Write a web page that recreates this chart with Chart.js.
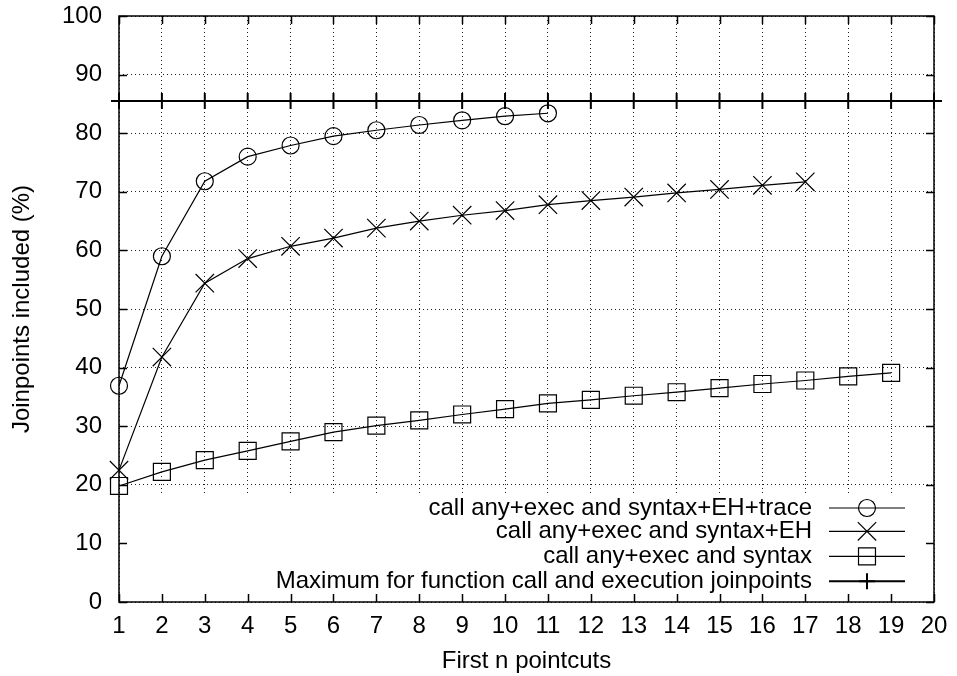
<!DOCTYPE html>
<html>
<head>
<meta charset="utf-8">
<script src="https://cdn.jsdelivr.net/npm/chart.js@4.4.0/dist/chart.umd.min.js"></script>
<style>
  html, body { margin: 0; padding: 0; background: #fff; }
  canvas { display: block; }
</style>
</head>
<body>
<canvas id="grafico" width="957" height="676"></canvas>
<script>
// valores
const pointcuts = [1, 2, 3, 4, 5, 6, 7, 8, 9, 10, 11, 12, 13, 14, 15, 16, 17, 18, 19, 20];
const traceSeries = [36.9, 59.0, 71.8, 76.0, 77.9, 79.5, 80.5, 81.4, 82.2, 82.9, 83.4];
const ehSeries = [22.5, 41.8, 54.4, 58.6, 60.7, 62.1, 63.8, 65.0, 66.0, 66.8, 67.8, 68.5, 69.1, 69.8, 70.4, 71.1, 71.7];
const syntaxSeries = [19.8, 22.2, 24.2, 25.8, 27.4, 29.0, 30.1, 31.0, 32.0, 32.9, 33.9, 34.5, 35.2, 35.8, 36.5, 37.2, 37.8, 38.5, 39.1];
const maxSeries = [85.5, 85.5, 85.5, 85.5, 85.5, 85.5, 85.5, 85.5, 85.5, 85.5, 85.5, 85.5, 85.5, 85.5, 85.5, 85.5, 85.5, 85.5, 85.5, 85.5];
const seriesLabels = [
  "call any+exec and syntax+EH+trace",
  "call any+exec and syntax+EH",
  "call any+exec and syntax",
  "Maximum for function call and execution joinpoints"
];
const xTitle = "First n pointcuts";
const yTitle = "Joinpoints included (%)";

function pontos(valores) {
  return valores.map((v, i) => ({ x: pointcuts[i], y: v }));
}

const fonte = { family: "'Liberation Sans', Arial, Helvetica, sans-serif", size: 24 };

const estilos = [
  { pointStyle: "circle", pointRadius: 8.5, borderWidth: 1.2 },
  { pointStyle: "crossRot", pointRadius: 13, borderWidth: 1.2 },
  { pointStyle: "rect", pointRadius: 12, borderWidth: 1.2 },
  { pointStyle: "cross", pointRadius: 8, borderWidth: 2 }
];

const todasSeries = [traceSeries, ehSeries, syntaxSeries, maxSeries];

const datasets = todasSeries.map((serie, i) => ({
  label: seriesLabels[i],
  data: pontos(serie),
  borderColor: "#000",
  backgroundColor: "rgba(0,0,0,0)",
  borderWidth: estilos[i].borderWidth,
  pointStyle: estilos[i].pointStyle,
  pointRadius: estilos[i].pointRadius,
  pointBorderColor: "#000",
  pointBackgroundColor: "rgba(0,0,0,0)",
  pointBorderWidth: estilos[i].borderWidth,
  tension: 0,
  clip: false
}));

// moldura, ticks para dentro e legenda no estilo gnuplot
const estiloGnuplot = {
  id: "estiloGnuplot",
  beforeDatasetsDraw(chart) {
    const { ctx, chartArea } = chart;
    ctx.save();
    ctx.fillStyle = "#fff";
    ctx.fillRect(chartArea.left + 1, chartArea.bottom - 108, chartArea.right - chartArea.left - 2, 107);
    ctx.restore();
  },
  afterDraw(chart) {
    const { ctx, chartArea } = chart;
    const xs = chart.scales.x;
    const ys = chart.scales.y;
    const tam = 8;
    ctx.save();
    ctx.strokeStyle = "#000";
    ctx.lineWidth = 1.5;
    ctx.beginPath();
    xs.ticks.forEach(t => {
      const px = Math.round(xs.getPixelForValue(t.value)) + 0.5;
      ctx.moveTo(px, chartArea.bottom);
      ctx.lineTo(px, chartArea.bottom - tam);
      ctx.moveTo(px, chartArea.top);
      ctx.lineTo(px, chartArea.top + tam);
    });
    ys.ticks.forEach(t => {
      const py = Math.round(ys.getPixelForValue(t.value)) + 0.5;
      ctx.moveTo(chartArea.left, py);
      ctx.lineTo(chartArea.left + tam, py);
      ctx.moveTo(chartArea.right, py);
      ctx.lineTo(chartArea.right - tam, py);
    });
    ctx.stroke();
    ctx.strokeRect(chartArea.left, chartArea.top, chartArea.right - chartArea.left, chartArea.bottom - chartArea.top);

    // legenda
    const xTexto = chartArea.right - 122;
    const xLinha1 = chartArea.right - 105;
    const xLinha2 = chartArea.right - 29;
    const yLinhas = [507.7, 531, 556, 581].map(v => v - 601.7 + chartArea.bottom);
    ctx.font = fonte.size + "px " + fonte.family;
    ctx.fillStyle = "#000";
    ctx.textAlign = "right";
    ctx.textBaseline = "middle";
    datasets.forEach((ds, i) => {
      const y = yLinhas[i];
      ctx.fillText(ds.label, xTexto, y);
      ctx.lineWidth = ds.borderWidth;
      ctx.beginPath();
      ctx.moveTo(xLinha1, y);
      ctx.lineTo(xLinha2, y);
      ctx.stroke();
      ctx.fillStyle = "rgba(0,0,0,0)";
      Chart.helpers.drawPoint(ctx, {
        pointStyle: ds.pointStyle,
        radius: ds.pointRadius,
        rotation: 0,
        borderWidth: ds.pointBorderWidth
      }, (xLinha1 + xLinha2) / 2, y);
      ctx.fillStyle = "#000";
    });
    ctx.restore();
  }
};

const grade = {
  color: "#222",
  lineWidth: 1,
  drawTicks: false
};

new Chart(document.getElementById("grafico"), {
  type: "line",
  data: { datasets },
  plugins: [estiloGnuplot],
  options: {
    responsive: false,
    animation: false,
    events: [],
    layout: { padding: { top: 16, right: 23, left: 0, bottom: 0 } },
    plugins: { legend: { display: false }, tooltip: { enabled: false } },
    scales: {
      x: {
        type: "linear",
        min: 1,
        max: 20,
        ticks: { stepSize: 1, color: "#000", font: fonte, padding: 10, maxRotation: 0, autoSkip: false },
        grid: grade,
        border: { display: false, dash: [1, 3] },
        title: { display: true, text: xTitle, color: "#000", font: fonte, padding: { top: 1, bottom: 0 } },
        afterFit(scale) {
          scale.height = 74;
          scale.paddingLeft = 0;
          scale.paddingRight = 0;
        }
      },
      y: {
        type: "linear",
        min: 0,
        max: 100,
        ticks: { stepSize: 10, color: "#000", font: fonte, padding: 17 },
        grid: grade,
        border: { display: false, dash: [1, 3] },
        title: { display: true, text: yTitle, color: "#000", font: fonte, padding: { top: 8, bottom: 0 } },
        afterFit(scale) {
          scale.width = 119;
          scale.paddingTop = 0;
          scale.paddingBottom = 0;
        }
      }
    }
  }
});
</script>
</body>
</html>
